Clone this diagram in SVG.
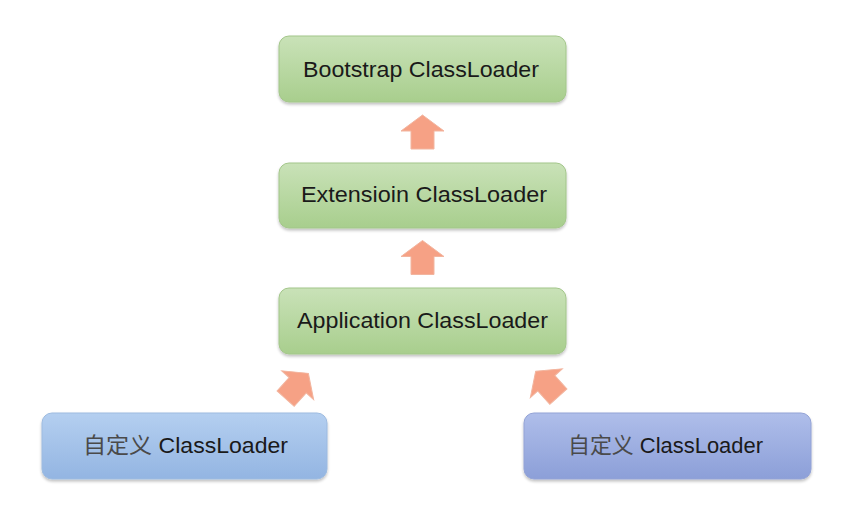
<svg xmlns="http://www.w3.org/2000/svg" width="851" height="508" viewBox="0 0 851 508">
<defs>
<linearGradient id="gGreen" x1="0" y1="0" x2="0" y2="1">
<stop offset="0" stop-color="#c9e2b8"/>
<stop offset="1" stop-color="#a8ce8d"/>
</linearGradient>
<linearGradient id="gBlue" x1="0" y1="0" x2="0" y2="1">
<stop offset="0" stop-color="#b4cff0"/>
<stop offset="1" stop-color="#93b5e2"/>
</linearGradient>
<linearGradient id="gViolet" x1="0" y1="0" x2="0" y2="1">
<stop offset="0" stop-color="#afbeea"/>
<stop offset="1" stop-color="#8c9fd8"/>
</linearGradient>
<filter id="sh" x="-5%" y="-10%" width="110%" height="130%">
<feGaussianBlur in="SourceAlpha" stdDeviation="1.5"/>
<feOffset dx="0" dy="2" result="b"/>
<feComponentTransfer><feFuncA type="linear" slope="0.25"/></feComponentTransfer>
<feMerge><feMergeNode/><feMergeNode in="SourceGraphic"/></feMerge>
</filter>
<path id="arrow" d="M0,-17 L21.5,-1 L11.5,-1 L11.5,17 L-11.5,17 L-11.5,-1 L-21.5,-1 Z"/>
</defs>
<style>
.green{fill:url(#gGreen);stroke:#a3c68a;stroke-width:1}
.blue{fill:url(#gBlue);stroke:#9dbbe0;stroke-width:1}
.violet{fill:url(#gViolet);stroke:#93a3d6;stroke-width:1}
.lbl{font-family:"Comic Sans MS","Liberation Sans","Noto Sans CJK SC",sans-serif;font-size:22px;fill:#1a1a1a;text-anchor:middle}
.cjk{font-family:"Noto Sans CJK SC",sans-serif;fill:#4a4a4a}
.arr{fill:#f6a185;stroke:#f2b59f;stroke-width:1}
</style>
<rect width="851" height="508" fill="#ffffff"/>
<g id="connectors">
<use href="#arrow" class="arr" transform="translate(422.5,132)"/>
<use href="#arrow" class="arr" transform="translate(422.5,257.5)"/>
<use href="#arrow" class="arr" transform="translate(297,386) rotate(42)"/>
<use href="#arrow" class="arr" transform="translate(547,384) rotate(-42)"/>
</g>
<g id="bootstrap">
<rect class="green" x="279" y="36" width="287" height="66" rx="10" filter="url(#sh)"/>
<text class="lbl" x="421" y="77" textLength="236" lengthAdjust="spacingAndGlyphs">Bootstrap ClassLoader</text>
</g>
<g id="extension">
<rect class="green" x="279" y="163" width="287" height="65" rx="10" filter="url(#sh)"/>
<text class="lbl" x="424" y="202" textLength="246" lengthAdjust="spacingAndGlyphs">Extensioin ClassLoader</text>
</g>
<g id="application">
<rect class="green" x="279" y="288" width="287" height="66" rx="10" filter="url(#sh)"/>
<text class="lbl" x="422.5" y="328" textLength="251" lengthAdjust="spacingAndGlyphs">Application ClassLoader</text>
</g>
<g id="custom-left">
<rect class="blue" x="42" y="413" width="285" height="66" rx="10" filter="url(#sh)"/>
<text class="lbl" x="185.5" y="453" textLength="205" lengthAdjust="spacingAndGlyphs"><tspan class="cjk">自定义</tspan> ClassLoader</text>
</g>
<g id="custom-right">
<rect class="violet" x="524" y="413" width="287" height="66" rx="10" filter="url(#sh)"/>
<text class="lbl" x="665.5" y="453" textLength="195" lengthAdjust="spacingAndGlyphs"><tspan class="cjk">自定义</tspan> ClassLoader</text>
</g>
</svg>
